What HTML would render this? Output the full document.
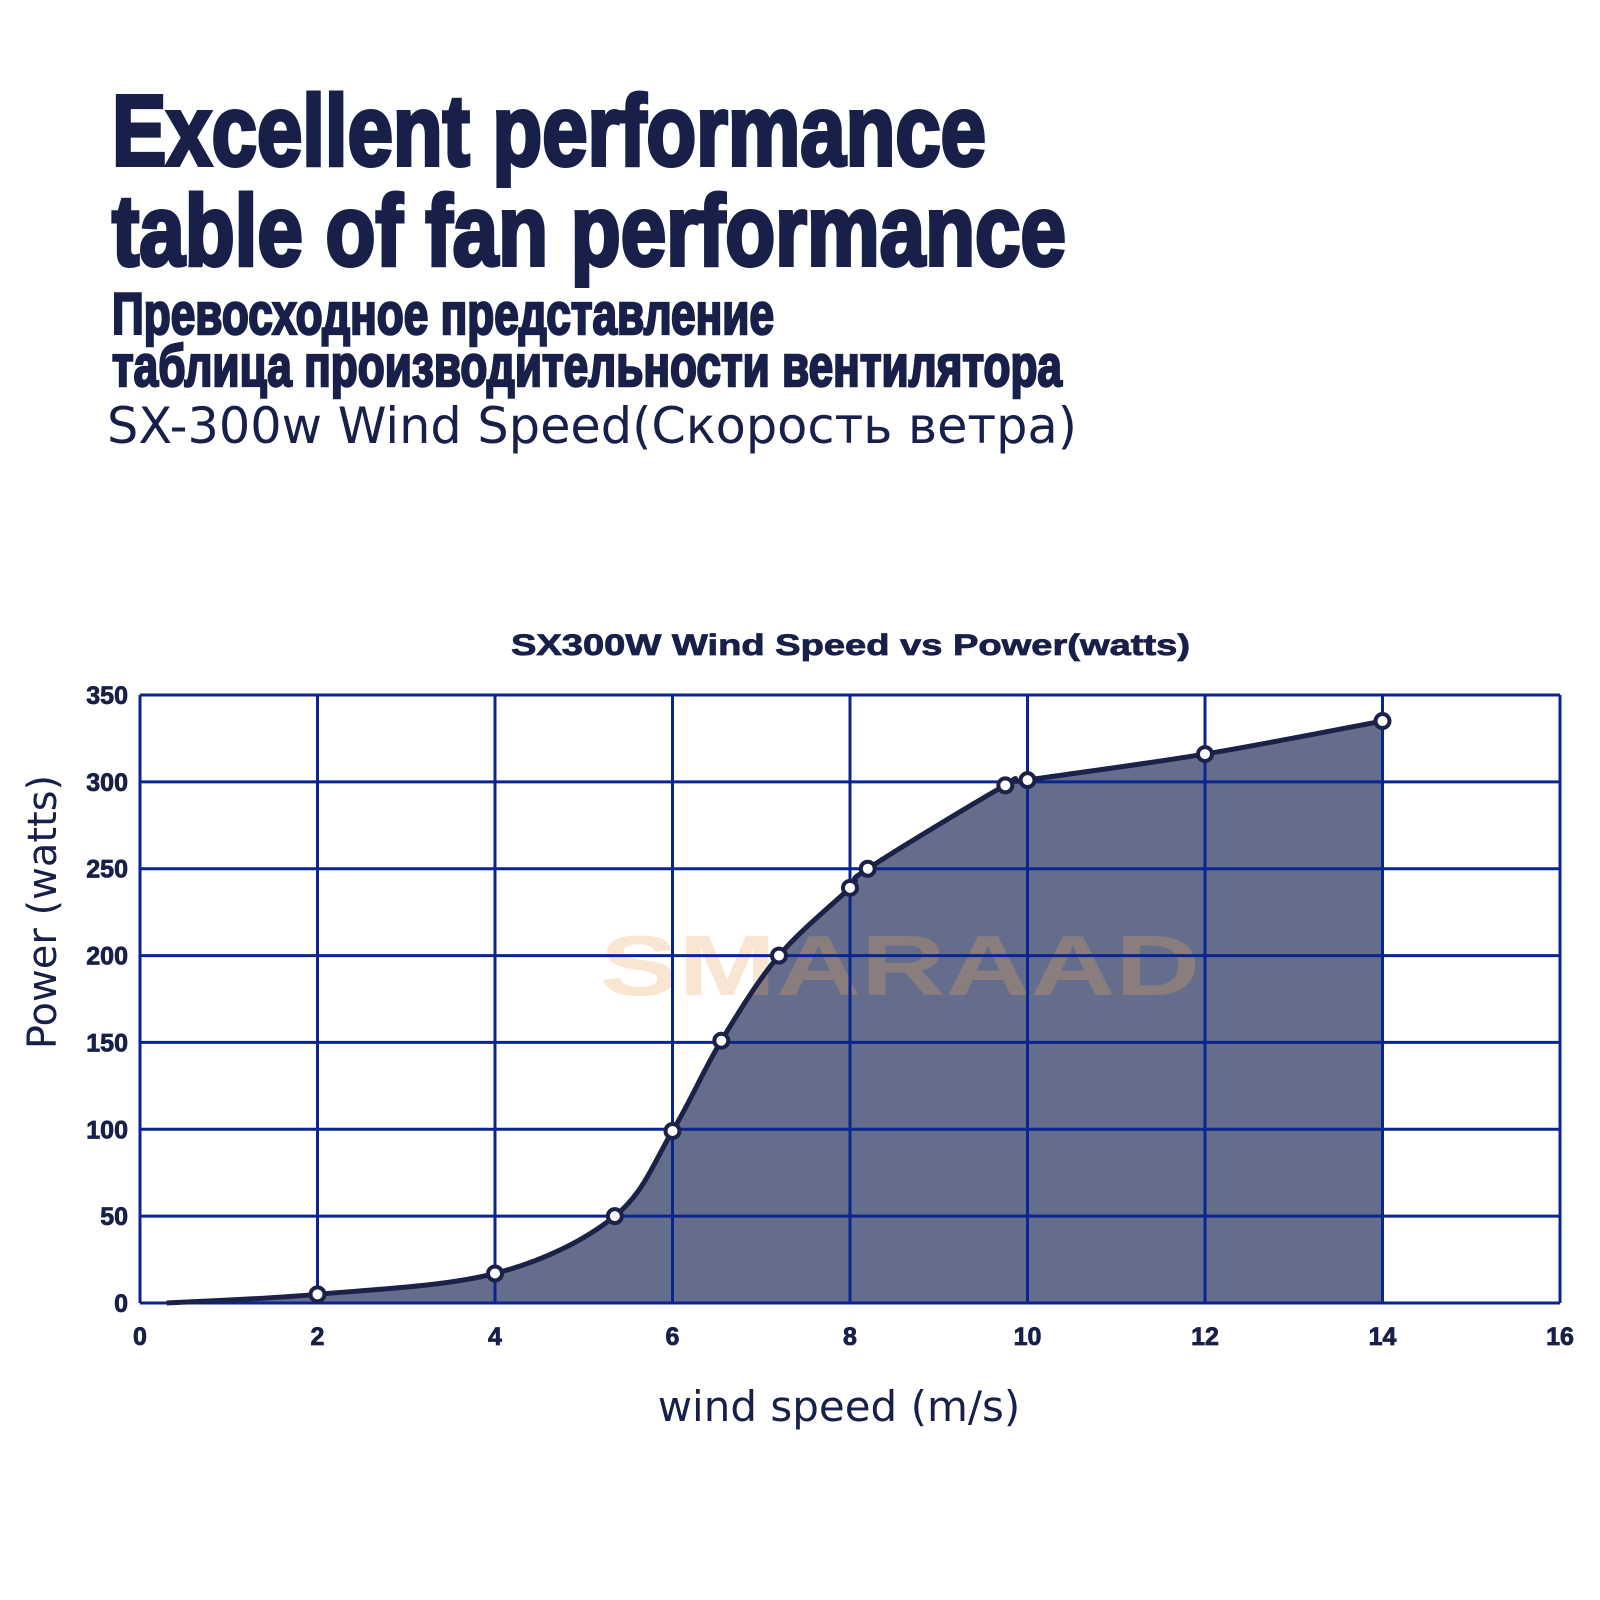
<!DOCTYPE html>
<html><head><meta charset="utf-8"><style>
html,body{margin:0;padding:0;background:#fff;}
svg{display:block;}
</style></head><body>
<svg width="1600" height="1600" viewBox="0 0 1600 1600">
<g fill="#18204a" stroke="#18204a">
<text x="112" y="165" stroke-width="4" font-family="'Liberation Sans Narrow','Liberation Sans',sans-serif" font-weight="bold" font-size="100" textLength="874" lengthAdjust="spacingAndGlyphs">Excellent performance</text>
<text x="112" y="265" stroke-width="4" font-family="'Liberation Sans Narrow','Liberation Sans',sans-serif" font-weight="bold" font-size="100" textLength="954" lengthAdjust="spacingAndGlyphs">table of fan performance</text>
<text x="112" y="334" stroke-width="2.5" font-family="'Liberation Sans Narrow','Liberation Sans',sans-serif" font-weight="bold" font-size="58" textLength="662" lengthAdjust="spacingAndGlyphs">Превосходное представление</text>
<text x="112" y="386" stroke-width="2.5" font-family="'Liberation Sans Narrow','Liberation Sans',sans-serif" font-weight="bold" font-size="58" textLength="950" lengthAdjust="spacingAndGlyphs">таблица производительности вентилятора</text>
<text x="107" y="443" stroke-width="0" font-family="'DejaVu Sans','Liberation Sans',sans-serif" font-size="50" textLength="970" lengthAdjust="spacingAndGlyphs">SX-300w Wind Speed(Скорость ветра)</text>
</g>
<text x="511" y="655" fill="#18204a" stroke="#18204a" stroke-width="0.8" font-family="'Liberation Sans',sans-serif" font-weight="bold" font-size="30" textLength="679" lengthAdjust="spacingAndGlyphs">SX300W Wind Speed vs Power(watts)</text>
<g id="chart"></g>
<text transform="translate(56,912) rotate(-90)" text-anchor="middle" fill="#18204a" font-family="'DejaVu Sans','Liberation Sans',sans-serif" font-size="40">Power (watts)</text>
<text x="839" y="1421" text-anchor="middle" fill="#18204a" font-family="'DejaVu Sans','Liberation Sans',sans-serif" font-size="42">wind speed (m/s)</text>
</svg>
<script>
const xTicks = [0,2,4,6,8,10,12,14,16];
const yTicks = [0,50,100,150,200,250,300,350];
const windSpeed = [2,4,5.35,6,6.55,7.2,8,8.2,9.75,10,12,14];
const power = [5,17,50,99,151,200,239,250,298,301,316,335];
const curveStart = [0.3,0];
const NS='http://www.w3.org/2000/svg';
const X0=140,X1=1560,Y0=1303,Y1=695;
const sx=v=>X0+(v-0)/(16-0)*(X1-X0);
const sy=v=>Y0-(v-0)/(350-0)*(Y0-Y1);
const g=document.getElementById('chart');
function mk(t,a){const e=document.createElementNS(NS,t);for(const k in a)e.setAttribute(k,a[k]);g.appendChild(e);return e;}
const pts=[[sx(curveStart[0]),sy(curveStart[1])]];
windSpeed.forEach((w,i)=>pts.push([sx(w),sy(power[i])]));
let d='M'+pts[0][0]+','+pts[0][1];
for(let i=0;i<pts.length-1;i++){
 const p0=pts[Math.max(0,i-1)],p1=pts[i],p2=pts[i+1],p3=pts[Math.min(pts.length-1,i+2)];
 const c1=[p1[0]+(p2[0]-p0[0])/6,p1[1]+(p2[1]-p0[1])/6];
 const c2=[p2[0]-(p3[0]-p1[0])/6,p2[1]-(p3[1]-p1[1])/6];
 d+=' C'+c1[0]+','+c1[1]+' '+c2[0]+','+c2[1]+' '+p2[0]+','+p2[1];
}
const last=pts[pts.length-1];
const area=mk('path',{d:d+' L'+last[0]+','+Y0+' L'+pts[0][0]+','+Y0+' Z',fill:'#646d8b'});


const wm=mk('text',{x:600,y:995,fill:'#e9a860',opacity:0.28,'font-family':'Liberation Sans,sans-serif','font-weight':'bold','font-size':85,textLength:600,lengthAdjust:'spacingAndGlyphs'});


wm.textContent='SMARAAD';
yTicks.forEach(v=>{
 const l=mk('line',{x1:X0,x2:X1,y1:sy(v),y2:sy(v),stroke:'#0a2490','stroke-width':3});
 
 
 const t=mk('text',{x:X0-12,y:sy(v)+9,'text-anchor':'end',fill:'#18204a',stroke:'#18204a','stroke-width':0.8,'font-family':'Liberation Sans,sans-serif','font-weight':'bold','font-size':25});
 
 
 t.textContent=v;
});
xTicks.forEach(v=>{
 const l=mk('line',{x1:sx(v),x2:sx(v),y1:Y1,y2:Y0,stroke:'#0a2490','stroke-width':3});
 
 
 const t=mk('text',{x:sx(v),y:Y0+42,'text-anchor':'middle',fill:'#18204a',stroke:'#18204a','stroke-width':0.8,'font-family':'Liberation Sans,sans-serif','font-weight':'bold','font-size':25});
 
 
 t.textContent=v;
});
const line=mk('path',{d:d,fill:'none',stroke:'#1b2148','stroke-width':5});


windSpeed.forEach((w,i)=>{
 const c=mk('circle',{cx:sx(w),cy:sy(power[i]),r:7,fill:'#fff',stroke:'#1b2148','stroke-width':4});
 
 
});
</script>
</body></html>
